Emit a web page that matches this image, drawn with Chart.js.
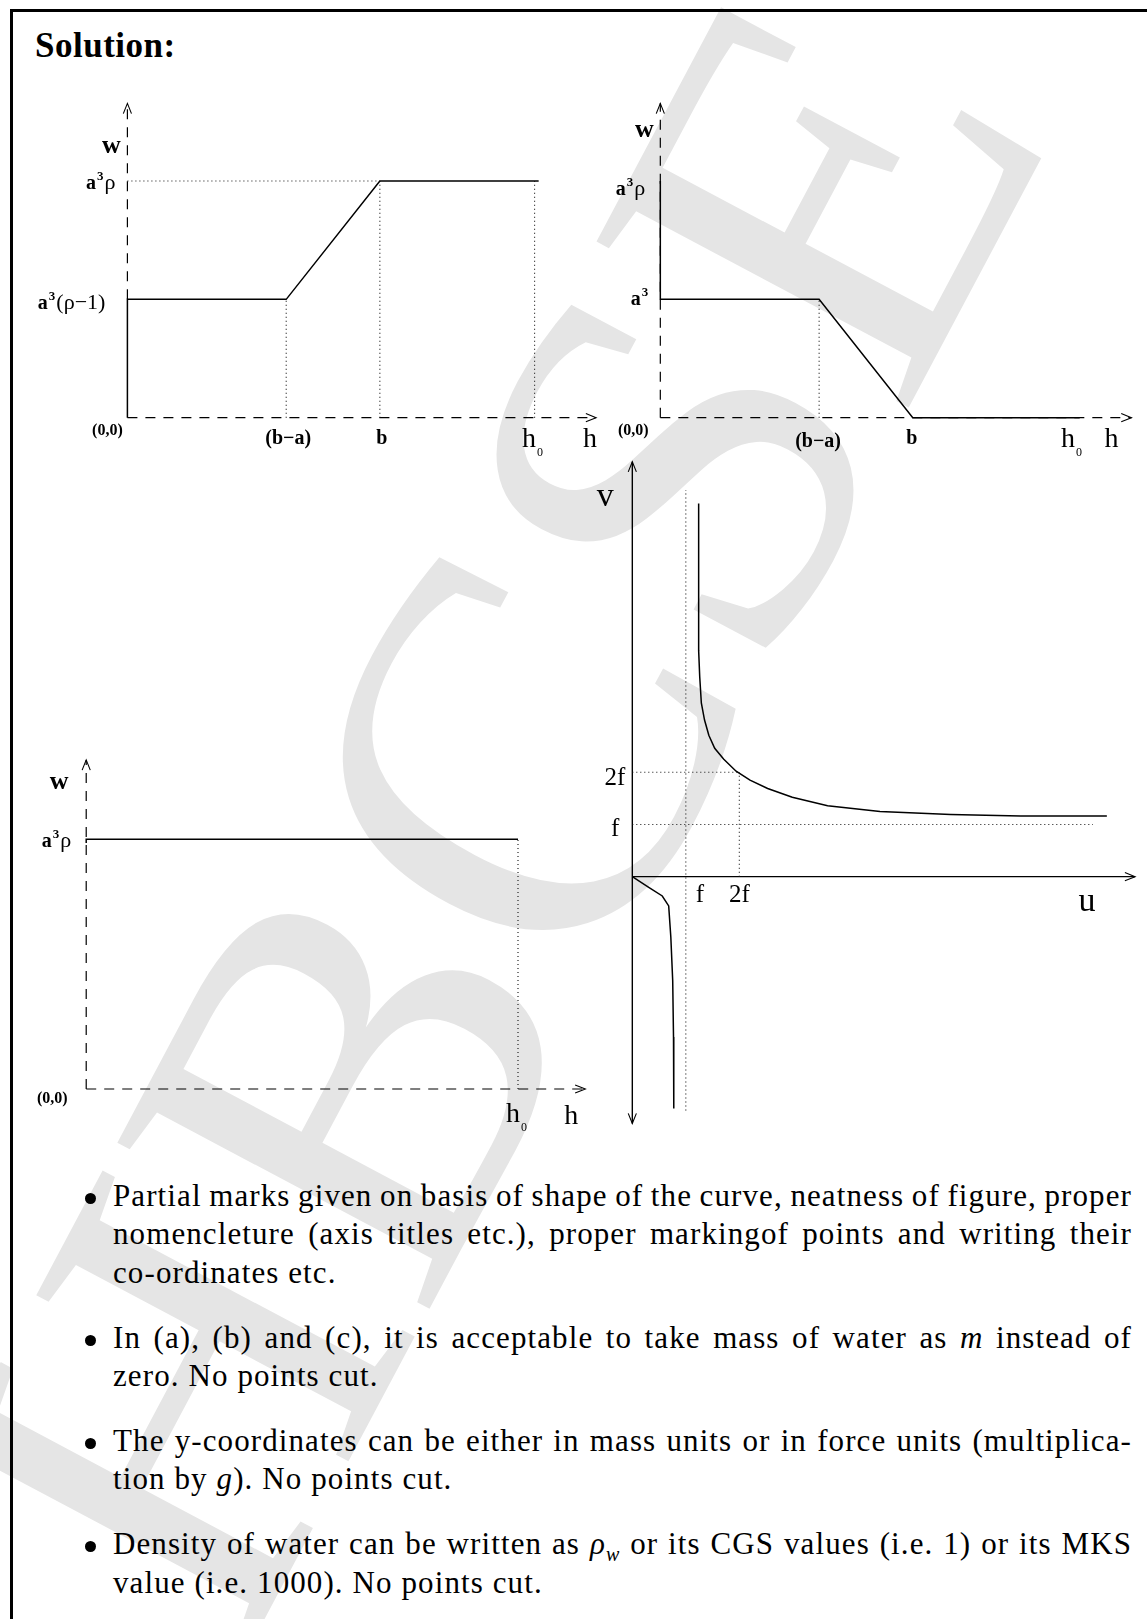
<!DOCTYPE html>
<html>
<head>
<meta charset="utf-8">
<script src="https://cdn.jsdelivr.net/npm/chart.js@4.4.1/dist/chart.umd.min.js"></script>
<style>
  body { margin:0; width:1147px; height:1619px; position:relative; overflow:hidden; background:#fff;
         font-family:"Liberation Serif", "Times New Roman", serif; color:#000; }
  #frame { position:absolute; left:10px; top:9px; width:1200px; height:1700px;
           border-top:3px solid #000; border-left:3px solid #000; }
  #wm { position:absolute; left:487px; top:813px; font-size:540px; line-height:1; color:#e5e5e5;
        white-space:nowrap; transform:translate(-50%,-50%) rotate(-62deg); }
  #title { position:absolute; left:35px; top:28px; font-size:35px; letter-spacing:0.5px; line-height:1; font-weight:bold; }
  canvas { position:absolute; }
  .lbl { position:absolute; white-space:nowrap; line-height:1; }
  .t0 { font-weight:bold; font-size:16px; }
  .tb { font-weight:bold; font-size:20px; }
  .wl { font-weight:bold; font-size:26px; }
  .ax { font-size:22px; }
  .ax b { font-size:20px; }
  .sup { font-weight:bold; font-size:13px; position:relative; top:-9px; margin-left:1px; margin-right:1px; }
  .hl { font-size:28px; }
  .sub { font-size:12px; position:relative; top:9px; left:1px; }
  .lens { font-size:25px; }
  .big { font-size:34px; }
  #notes { position:absolute; left:113px; top:1177px; width:1019px; font-size:31px; letter-spacing:1.1px; }
  #notes .para { position:relative; margin-bottom:26.8px; }
  #notes .line { height:38.3px; line-height:38.3px; white-space:nowrap; }
  #notes .dot { position:absolute; left:-28.5px; top:16px; width:11px; height:11px; border-radius:50%; background:#000; }
  #notes sub { font-size:20px; line-height:0; }
</style>
</head>
<body>
<div id="wm">HBCSE</div>
<div id="frame"></div>
<div id="title">Solution:</div>
<canvas id="chartA"></canvas>
<canvas id="chartB"></canvas>
<canvas id="chartC"></canvas>
<canvas id="chartD"></canvas>
<div id="notes"></div>

<script>
// --- valores ---
// marcas no eixo h: (b−a), b, h0
const hTicks = [3.9, 6.2, 10];

// (a) peso aparente: sobe de a³(ρ−1) para a³ρ
const hA = [0, 0, 3.9, 6.2, 10.1];
const wA = [0, 5, 5, 10, 10];

// (b) empuxo: cai de a³ para zero
const hB = [0, 0, 3.9, 6.2, 10.3];
const wB = [10, 5, 5, 0, 0];

// (c) constante a³ρ
const hC = [0, 0, 10];
const wC = [9.85, 10, 10];

// lente: ramo de cima (u > f) e ramo de baixo (u < f), em unidades de f
const uUpper = [1.24, 1.24, 1.24, 1.26, 1.29, 1.35, 1.43, 1.54, 1.71, 1.94, 2.2, 2.53, 2.99, 3.65, 4.63, 5.95, 7.26, 8.87];
const vUpper = [7.15, 5.49, 4.33, 3.83, 3.33, 3.0, 2.71, 2.46, 2.25, 2.02, 1.85, 1.69, 1.52, 1.36, 1.25, 1.19, 1.16, 1.16];
const uLower = [0, 0.3, 0.56, 0.68, 0.72, 0.755, 0.77, 0.775];
const vLower = [0, -0.2, -0.37, -0.56, -1.16, -1.99, -3.07, -4.44];
const lensTicks = [1, 2]; // f, 2f

const notes = [
    ['Partial marks given on basis of shape of the curve, neatness of figure, proper',
     'nomencleture (axis titles etc.), proper markingof points and writing their',
     'co-ordinates etc.'],
    ['In (a), (b) and (c), it is acceptable to take mass of water as <i>m</i> instead of',
     'zero. No points cut.'],
    ['The y-coordinates can be either in mass units or in force units (multiplica-',
     'tion by <i>g</i>). No points cut.'],
    ['Density of water can be written as <i>ρ<sub>w</sub></i> or its CGS values (i.e. 1) or its MKS',
     'value (i.e. 1000). No points cut.']
];

function pts(xs, ys) {
    return xs.map((x, i) => ({ x: x, y: ys[i] }));
}

function serie(xs, ys, estilo) {
    return Object.assign({
        data: pts(xs, ys), showLine: true, borderColor: '#000', borderWidth: 1.5,
        pointRadius: 0, tension: 0, fill: false
    }, estilo || {});
}

const tracejado = { borderWidth: 1.2, borderDash: [10, 8] };
const pontilhado = { borderWidth: 1.1, borderDash: [1, 3], borderColor: '#111' };

function pluginSetas(lista) {
    return {
        id: 'setas',
        afterDatasetsDraw(chart) {
            const ctx = chart.ctx, sx = chart.scales.x, sy = chart.scales.y;
            ctx.save();
            ctx.strokeStyle = '#000';
            ctx.lineWidth = 1.1;
            ctx.setLineDash([]);
            lista.forEach(a => {
                const x1 = sx.getPixelForValue(a.de[0]), y1 = sy.getPixelForValue(a.de[1]);
                const x2 = sx.getPixelForValue(a.para[0]), y2 = sy.getPixelForValue(a.para[1]);
                const ang = Math.atan2(y2 - y1, x2 - x1);
                const L = 11, s = 0.38;
                ctx.beginPath();
                ctx.moveTo(x2 - L * Math.cos(ang - s), y2 - L * Math.sin(ang - s));
                ctx.lineTo(x2, y2);
                ctx.lineTo(x2 - L * Math.cos(ang + s), y2 - L * Math.sin(ang + s));
                ctx.stroke();
            });
            ctx.restore();
        }
    };
}

function criarGrafico(id, caixa, faixaX, faixaY, datasets, setas) {
    const cv = document.getElementById(id);
    cv.width = caixa.w;
    cv.height = caixa.h;
    cv.style.left = caixa.x + 'px';
    cv.style.top = caixa.y + 'px';
    return new Chart(cv, {
        type: 'scatter',
        data: { datasets: datasets },
        options: {
            responsive: false,
            animation: false,
            events: [],
            layout: { padding: 0 },
            plugins: { legend: { display: false }, tooltip: { enabled: false } },
            scales: {
                x: { type: 'linear', display: false, min: faixaX[0], max: faixaX[1] },
                y: { type: 'linear', display: false, min: faixaY[0], max: faixaY[1] }
            }
        },
        plugins: [pluginSetas(setas)]
    });
}

function rotulos(chart, caixa, lista) {
    lista.forEach(([xv, yv, dx, dy, html, cls, alin]) => {
        const el = document.createElement('div');
        el.className = 'lbl ' + cls;
        el.innerHTML = html;
        el.style.left = (caixa.x + chart.scales.x.getPixelForValue(xv) + dx) + 'px';
        el.style.top = (caixa.y + chart.scales.y.getPixelForValue(yv) + dy) + 'px';
        el.style.transform = alin === 'r' ? 'translate(-100%,-50%)'
            : alin === 'l' ? 'translate(0,-50%)' : 'translate(-50%,-50%)';
        document.body.appendChild(el);
    });
}

const a3rho = '<b>a</b><span class="sup">3</span>ρ';
const h0 = 'h<span class="sub">0</span>';

// ---------- (a) ----------
const fimA = { h: 11.51, w: 13.28 };
const caixaA = { x: 100, y: 90, w: 510, h: 340 };
const chartA = criarGrafico('chartA', caixaA, [-0.673, 11.852], [-0.52, 13.845], [
    serie(hA, wA),
    serie([hTicks[0], hTicks[0]], [0, wA[2]], pontilhado),
    serie([hTicks[1], hTicks[1]], [0, wA[3]], pontilhado),
    serie([hTicks[2], hTicks[2]], [0, wA[4]], pontilhado),
    serie([0, hTicks[1]], [wA[3], wA[3]], pontilhado),
    serie([0, fimA.h], [0, 0], tracejado),
    serie([0, 0], [wA[1], fimA.w], tracejado)
], [{ de: [0, 0], para: [fimA.h, 0] }, { de: [0, 0], para: [0, fimA.w] }]);
rotulos(chartA, caixaA, [
    [0, 11.52, -16, 0, 'w', 'wl', 'c'],
    [0, 10, -12, 1, a3rho, 'ax', 'r'],
    [0, 5, -22, 3, '<b>a</b><span class="sup">3</span>(ρ−1)', 'ax', 'r'],
    [0, 0, -20, 12, '(0,0)', 't0', 'c'],
    [hTicks[0], 0, 2, 19, '(b−a)', 'tb', 'c'],
    [hTicks[1], 0, 2, 19, 'b', 'tb', 'c'],
    [hTicks[2], 0, -12.6, 20, h0, 'hl', 'l'],
    [fimA.h, 0, -6, 20, 'h', 'hl', 'c']
]);

// ---------- (b) ----------
const fimB = { h: 11.57, w: 13.28 };
const caixaB = { x: 620, y: 90, w: 525, h: 340 };
const chartB = criarGrafico('chartB', caixaB, [-0.99, 11.903], [-0.52, 13.845], [
    serie(hB, wB),
    serie([hTicks[0], hTicks[0]], [0, wB[2]], pontilhado),
    serie([0, fimB.h], [0, 0], tracejado),
    serie([0, 0], [0, fimB.w], tracejado)
], [{ de: [0, 0], para: [fimB.h, 0] }, { de: [0, 0], para: [0, fimB.w] }]);
rotulos(chartB, caixaB, [
    [0, 12.2, -16, 0, 'w', 'wl', 'c'],
    [0, 10, -15, 7, a3rho, 'ax', 'r'],
    [0, 5, -11, -1, '<b>a</b><span class="sup">3</span>', 'ax', 'r'],
    [0, 0, -27, 12, '(0,0)', 't0', 'c'],
    [hTicks[0], 0, -1, 22, '(b−a)', 'tb', 'c'],
    [hTicks[1], 0, -1, 19, 'b', 'tb', 'c'],
    [hTicks[2], 0, -6.5, 20, h0, 'hl', 'l'],
    [fimB.h, 0, -20, 20, 'h', 'hl', 'c']
]);

// ---------- (c) ----------
const fimC = { h: 11.56, w: 13.18 };
const caixaC = { x: 60, y: 745, w: 540, h: 360 };
const chartC = criarGrafico('chartC', caixaC, [-0.607, 11.899], [-0.64, 13.777], [
    serie(hC, wC),
    serie([hTicks[2], hTicks[2]], [0, wC[2]], pontilhado),
    serie([0, fimC.h], [0, 0], tracejado),
    serie([0, 0], [0, fimC.w], tracejado)
], [{ de: [0, 0], para: [fimC.h, 0] }, { de: [0, 0], para: [0, fimC.w] }]);
rotulos(chartC, caixaC, [
    [0, 12.33, -27, 0, 'w', 'wl', 'c'],
    [0, 10, -15, 1, a3rho, 'ax', 'r'],
    [0, 0, -34, 9, '(0,0)', 't0', 'c'],
    [hTicks[2], 0, -12, 24, h0, 'hl', 'l'],
    [fimC.h, 0, -14, 26, 'h', 'hl', 'c']
]);

// ---------- lente: v contra u ----------
const fimD = { u: 9.398, vTopo: 7.95, vBase: -4.73 };
const caixaD = { x: 600, y: 450, w: 545, h: 685 };
const chartD = criarGrafico('chartD', caixaD, [-0.604, 9.583], [-4.949, 8.174], [
    serie(uUpper, vUpper),
    serie(uLower, vLower),
    serie([lensTicks[0], lensTicks[0]], [-4.48, 7.41], pontilhado),
    serie([lensTicks[1], lensTicks[1]], [0, lensTicks[1]], pontilhado),
    serie([0, lensTicks[1]], [lensTicks[1], lensTicks[1]], pontilhado),
    serie([0, 8.61], [lensTicks[0], lensTicks[0]], pontilhado),
    serie([0, fimD.u], [0, 0], { borderWidth: 1.4 }),
    serie([0, 0], [fimD.vBase, fimD.vTopo], { borderWidth: 1.4 })
], [
    { de: [0, 0], para: [fimD.u, 0] },
    { de: [0, 0], para: [0, fimD.vTopo] },
    { de: [0, 0], para: [0, fimD.vBase] }
]);
rotulos(chartD, caixaD, [
    [0, 7.31, -27, 0, 'v', 'big', 'c'],
    [0, lensTicks[1], -7, 4, '2f', 'lens', 'r'],
    [0, lensTicks[0], -13, 3, 'f', 'lens', 'r'],
    [lensTicks[0], 0, 14, 16, 'f', 'lens', 'c'],
    [lensTicks[1], 0, 0, 16, '2f', 'lens', 'c'],
    [fimD.u, 0, -48, 23, 'u', 'big', 'c']
]);

// ---------- observações ----------
const caixaNotas = document.getElementById('notes');
notes.forEach(par => {
    const p = document.createElement('div');
    p.className = 'para';
    p.innerHTML = '<div class="dot"></div>';
    par.forEach((txt, i) => {
        const l = document.createElement('div');
        l.className = 'line';
        l.innerHTML = '<span>' + txt + '</span>';
        l.dataset.full = i < par.length - 1 ? '1' : '0';
        p.appendChild(l);
    });
    caixaNotas.appendChild(p);
});
// linhas cheias: espaçamento entre palavras para justificar
document.querySelectorAll('#notes .line').forEach(l => {
    if (l.dataset.full !== '1') return;
    const s = l.firstChild;
    const largura = s.getBoundingClientRect().width;
    const espacos = (s.textContent.match(/ /g) || []).length;
    if (espacos > 0) s.style.wordSpacing = ((1019 - largura) / espacos) + 'px';
});
</script>
</body>
</html>
